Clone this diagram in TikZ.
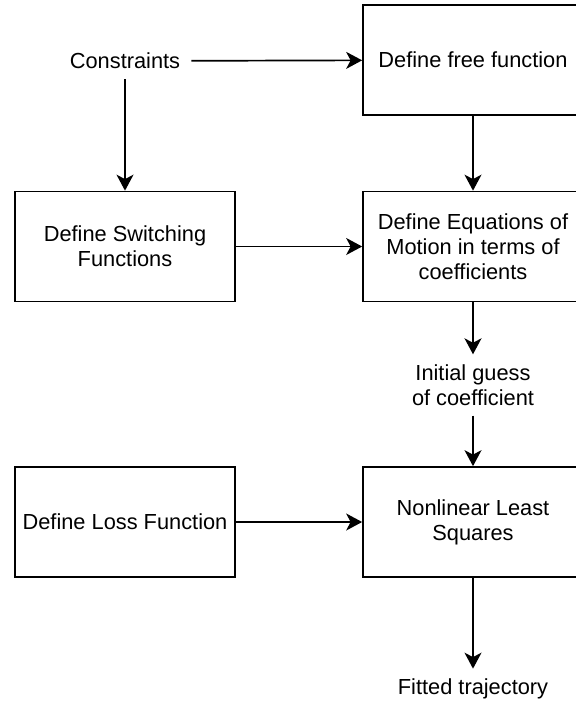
\documentclass[tikz,border=0pt]{standalone}
\usepackage{fontspec}
\setmainfont{Liberation Sans}
\usetikzlibrary{arrows.meta}

\begin{document}
\begin{tikzpicture}[x=1pt, y=-1pt,
    every node/.style={font=\fontsize{21.8pt}{25pt}\selectfont, align=center},
    box/.style={draw, line width=1.7pt, minimum width=220pt, minimum height=110pt, inner sep=4pt},
    lbl/.style={inner xsep=11pt, inner ysep=10pt},
    flow/.style={-{Stealth[length=16pt, width=17pt, inset=4.5pt]}, line width=1.7pt}]
    \useasboundingbox (0,0) rectangle (576,702);

    % boxes
    \node[box] (free)   at (473,60)    {Define free function};
    \node[box] (switch) at (125,246.5) {Define Switching\\Functions};
    \node[box] (eom)    at (473,246.5) {Define Equations of\\Motion in terms of\\coefficients};
    \node[box] (loss)   at (125,522)   {Define Loss Function};
    \node[box] (nls)    at (473,522)   {Nonlinear Least\\Squares};

    % free labels
    \node[lbl] (cons)   at (125,61)  {Constraints};
    \node[lbl] (guess)  at (473,385) {Initial guess\\of coefficient};
    \node[lbl] (fitted) at (473,689) {Fitted trajectory};

    \draw[flow] (cons) -- (free);
    \draw[flow] (cons) -- (switch);
    \draw[flow] (free) -- (eom);
    \draw[flow] (switch) -- (eom);
    \draw[flow] (eom) -- (guess);
    \draw[flow] (guess) -- (nls);
    \draw[flow] (loss) -- (nls);
    \draw[flow] (nls) -- (fitted);
\end{tikzpicture}
\end{document}
